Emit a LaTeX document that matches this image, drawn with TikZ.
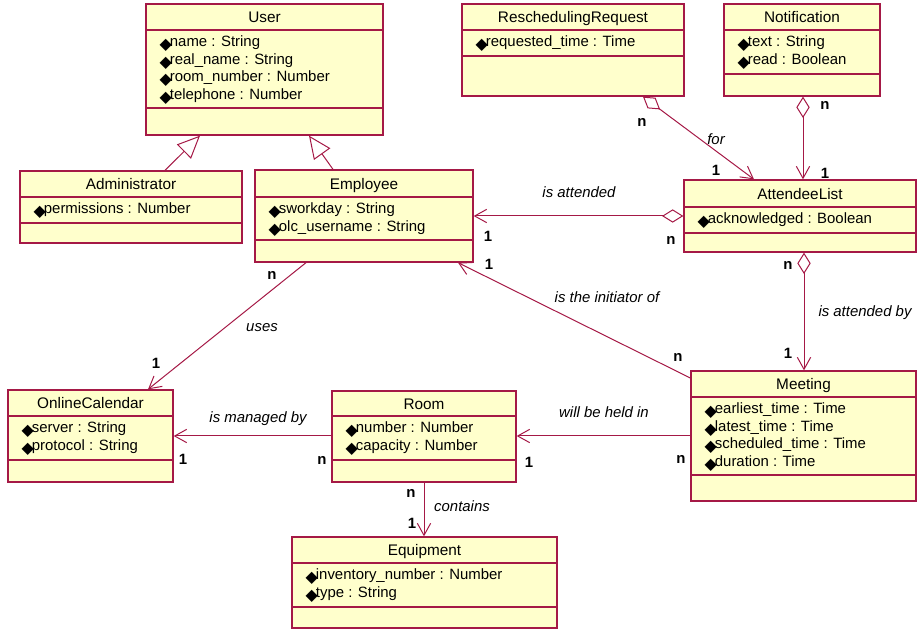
\documentclass[tikz,border=0pt]{standalone}
\usepackage{fontspec}
\setmainfont{Liberation Sans}
\newfontfamily\symfont{DejaVu Sans}
\usepackage{xcolor}
\usepackage{tikz}
\usetikzlibrary{fit, calc, arrows.meta}

\definecolor{umlred}{RGB}{165,25,70}
\definecolor{umlfill}{RGB}{255,255,204}

% black diamond in front of every attribute
\newcommand{\attr}{{\symfont\fontsize{12}{12}\selectfont\raisebox{-2.5pt}{◆}}\hspace{-1.5pt}}

% #1 name, #2..#5 left top right bottom, #6 #7 dividers, #8 title, #9 attributes
\newcommand{\umlclass}[9]{%
\node[classbox, fit={(#2,#3) (#4,#5)}] (#1) {};
\draw[classrule] (#2,#6) -- (#4,#6) (#2,#7) -- (#4,#7);
\node[classtitle] (#1-title) at ($(#2,#3)!0.5!(#4,#6)$) {#8};
\node[classattr] (#1-attrs) at (#2,#6) {#9};
}

\begin{document}
\begin{tikzpicture}[x=0.75pt, y=-0.75pt,
  font=\fontsize{11.2}{13.2}\selectfont,
  classbox/.style={draw=umlred, fill=umlfill, line width=1pt, inner sep=0pt},
  classrule/.style={draw=umlred, line width=1pt},
  classtitle/.style={inner sep=0pt, anchor=base, yshift=-4.3pt, font=\fontsize{11.5}{13.2}\selectfont},
  classattr/.style={anchor=north west, align=left, inner sep=0pt, xshift=10pt, yshift=-4pt},
  assoc/.style={draw=umlred, line width=0.75pt, -{Straight Barb[length=9pt, width=10pt]}},
  aggr/.style={draw=umlred, line width=0.75pt, {Diamond[open, length=16pt, width=10pt]}-{Straight Barb[length=9pt, width=10pt]}},
  inherit/.style={draw=umlred, line width=0.75pt, -{Triangle[open, length=17pt, width=15pt]}},
  mult/.style={font=\fontsize{11.2}{13.2}\selectfont\bfseries, inner sep=0pt},
  role/.style={font=\fontsize{11.2}{13.2}\selectfont\itshape, inner sep=0pt}]
\useasboundingbox (0,0) rectangle (917,630);

% classes
\umlclass{user}{146}{4}{383}{135}{30}{108}{User}
  {\attr name : String\\\attr real\_name : String\\\attr room\_number : Number\\\attr telephone : Number}
\umlclass{admin}{20}{171}{242}{243}{197}{223}{Administrator}
  {\attr permissions : Number}
\umlclass{employee}{255}{170}{473}{262}{197}{240}{Employee}
  {\attr sworkday : String\\\attr olc\_username : String}
\umlclass{resched}{462}{4}{684}{96}{30}{56}{ReschedulingRequest}
  {\attr requested\_time : Time}
\umlclass{notif}{724}{4}{880}{96}{30}{74}{Notification}
  {\attr text : String\\\attr read : Boolean}
\umlclass{attendees}{684}{180}{916}{252}{207}{233}{AttendeeList}
  {\attr acknowledged : Boolean}
\umlclass{calendar}{8}{390}{173}{482}{416}{460}{OnlineCalendar}
  {\attr server : String\\\attr protocol : String}
\umlclass{room}{332}{391}{516}{482}{416}{460}{Room}
  {\attr number : Number\\\attr capacity : Number}
\umlclass{meeting}{691}{371}{916}{501}{397}{475}{Meeting}
  {\attr earliest\_time : Time\\\attr latest\_time : Time\\\attr scheduled\_time : Time\\\attr duration : Time}
\umlclass{equipment}{292}{537}{557}{628}{563}{607}{Equipment}
  {\attr inventory\_number : Number\\\attr type : String}

% generalizations
\draw[inherit] (admin.north -| 165,0) -- (user.south -| 200,0);
\draw[inherit] (employee.north -| 333,0) -- (user.south -| 309,0);

% aggregations
\draw[aggr] (resched.south -| 643,0) -- (attendees.north -| 754,0);
\draw[aggr] (notif.south -| 803,0) -- (attendees.north -| 803,0);
\draw[aggr] (attendees.west |- 0,216) -- (employee.east |- 0,216);
\draw[aggr] (attendees.south -| 804,0) -- (meeting.north -| 804,0);

% associations
\draw[assoc] (meeting.west |- 0,378) -- (employee.south -| 458,0);
\draw[assoc] (employee.south -| 306,0) -- (calendar.north -| 148,0);
\draw[assoc] (room.west |- 0,436) -- (calendar.east |- 0,436);
\draw[assoc] (meeting.west |- 0,436) -- (room.east |- 0,436);
\draw[assoc] (room.south -| 424,0) -- (equipment.north -| 424,0);

% labels
\node[mult] (rr-n) at (642,122) {n};
\node[role] (rr-for) at (716,139) {for};
\node[mult] (rr-1) at (716,170) {1};
\node[mult] (no-n) at (825,105) {n};
\node[mult] (no-1) at (825,173) {1};
\node[role] (al-role) at (579,192) {is attended};
\node[mult] (al-1) at (488,236) {1};
\node[mult] (al-n) at (671,240) {n};
\node[mult] (am-n) at (788,265) {n};
\node[role] (am-role) at (865,313) {is attended by};
\node[mult] (am-1) at (788,353) {1};
\node[mult] (in-1) at (489,264) {1};
\node[role] (in-role) at (607,297) {is the initiator of};
\node[mult] (in-n) at (678,357) {n};
\node[mult] (us-n) at (272,275) {n};
\node[role] (us-role) at (262,328) {uses};
\node[mult] (us-1) at (156,363) {1};
\node[role] (mb-role) at (258,419) {is managed by};
\node[mult] (mb-1) at (183,459) {1};
\node[mult] (mb-n) at (322,460) {n};
\node[role] (hi-role) at (604,412) {will be held in};
\node[mult] (hi-1) at (529,462) {1};
\node[mult] (hi-n) at (681,459) {n};
\node[mult] (co-n) at (411,493) {n};
\node[role] (co-role) at (462,506) {contains};
\node[mult] (co-1) at (412,523) {1};
\end{tikzpicture}
\end{document}
